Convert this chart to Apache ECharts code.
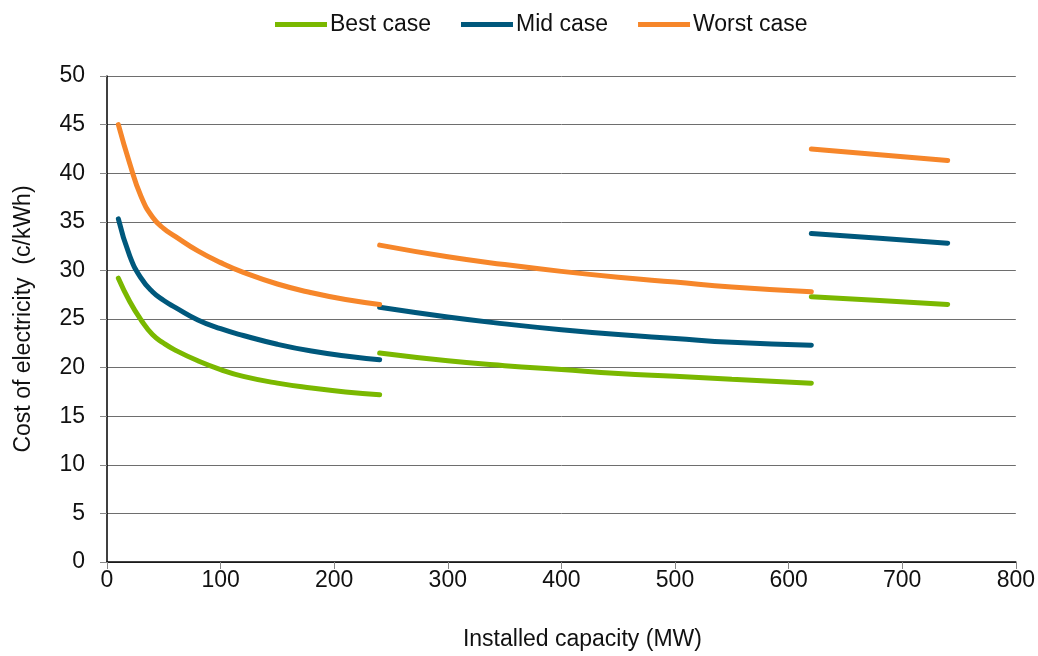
<!DOCTYPE html>
<html>
<head>
<meta charset="utf-8">
<script src="https://cdn.jsdelivr.net/npm/echarts@6/dist/echarts.min.js"></script>
<style>
  html, body { margin: 0; padding: 0; background: #fff; }
  #chart { width: 1038px; height: 656px; }
</style>
</head>
<body>
<div id="chart"></div>
<script>
// installed capacity (MW) for each of the three segments
let xSeg1 = [10, 20, 30, 40, 50, 60, 80, 100, 120, 150, 180, 210, 240]
let xSeg2 = [240, 300, 350, 400, 450, 500, 550, 620]
let xSeg3 = [620, 680, 740]

// cost of electricity (c/kWh)
let best1 = [29.2, 26.8, 24.9, 23.4, 22.5, 21.8, 20.7, 19.8, 19.1, 18.4, 17.9, 17.5, 17.2]
let best2 = [21.5, 20.7, 20.2, 19.8, 19.4, 19.1, 18.8, 18.4]
let best3 = [27.3, 26.9, 26.5]

let mid1 = [35.3, 31.5, 29.2, 27.8, 26.9, 26.2, 24.9, 24.0, 23.3, 22.4, 21.7, 21.2, 20.8]
let mid2 = [26.2, 25.2, 24.5, 23.9, 23.4, 23.0, 22.6, 22.3]
let mid3 = [33.8, 33.3, 32.8]

let worst1 = [45.0, 41.0, 37.6, 35.5, 34.3, 33.5, 32.0, 30.8, 29.8, 28.6, 27.7, 27.0, 26.5]
let worst2 = [32.6, 31.4, 30.6, 29.9, 29.3, 28.8, 28.3, 27.8]
let worst3 = [42.5, 41.9, 41.3]

let names = ['Best case', 'Mid case', 'Worst case']
let colors = ['#7ab800', '#00587c', '#f6862a']

function join (segs) {
  let out = []
  segs.forEach(function (s, i) {
    if (i > 0) out.push([s[0][0], '-'])
    s[0].forEach(function (x, j) { out.push([x, s[1][j]]) })
  })
  return out
}

let seriesData = [
  join([[xSeg1, best1], [xSeg2, best2], [xSeg3, best3]]),
  join([[xSeg1, mid1], [xSeg2, mid2], [xSeg3, mid3]]),
  join([[xSeg1, worst1], [xSeg2, worst2], [xSeg3, worst3]])
]

let font = '"Liberation Sans Narrow", "Arial Narrow", "Liberation Sans", sans-serif'

let option = {
  animation: false,
  textStyle: { fontFamily: font },
  legend: {
    data: names,
    top: 8,
    left: 270,
    icon: 'rect',
    itemWidth: 52,
    itemHeight: 5,
    itemGap: 30,
    textStyle: { fontSize: 23, color: '#111', fontFamily: font, padding: [0, 0, 0, -2] }
  },
  grid: { left: 107, right: 20, top: 76, bottom: 93 },
  xAxis: {
    type: 'value',
    min: 0,
    max: 800,
    interval: 100,
    name: 'Installed capacity (MW)',
    nameLocation: 'middle',
    nameGap: 66,
    nameTextStyle: { fontSize: 23, color: '#111', fontFamily: font, padding: [0, 0, 0, 42] },
    axisLine: { lineStyle: { color: '#000', width: 1.5 } },
    axisTick: { show: true, length: 7, lineStyle: { color: '#888' } },
    axisLabel: { fontSize: 23, color: '#111', margin: 7, fontFamily: font },
    splitLine: { show: false }
  },
  yAxis: {
    type: 'value',
    min: 0,
    max: 50,
    interval: 5,
    name: 'Cost of electricity  (c/kWh)',
    nameLocation: 'middle',
    nameGap: 72,
    nameTextStyle: { fontSize: 23, color: '#111', fontFamily: font },
    axisLine: { show: true, lineStyle: { color: '#000', width: 1.5 } },
    axisTick: { show: true, length: 7, lineStyle: { color: '#888' } },
    axisLabel: { fontSize: 23, color: '#111', margin: 22, fontFamily: font },
    splitLine: { show: true, lineStyle: { color: '#6e6e6e', width: 1 } }
  },
  series: names.map(function (n, i) {
    return {
      name: n,
      type: 'line',
      data: seriesData[i],
      smooth: 0.5,
      showSymbol: false,
      connectNulls: false,
      color: colors[i],
      lineStyle: { width: 5, color: colors[i], cap: 'round' }
    }
  })
}

let chart = echarts.init(document.getElementById('chart'))
chart.setOption(option)
</script>
</body>
</html>
